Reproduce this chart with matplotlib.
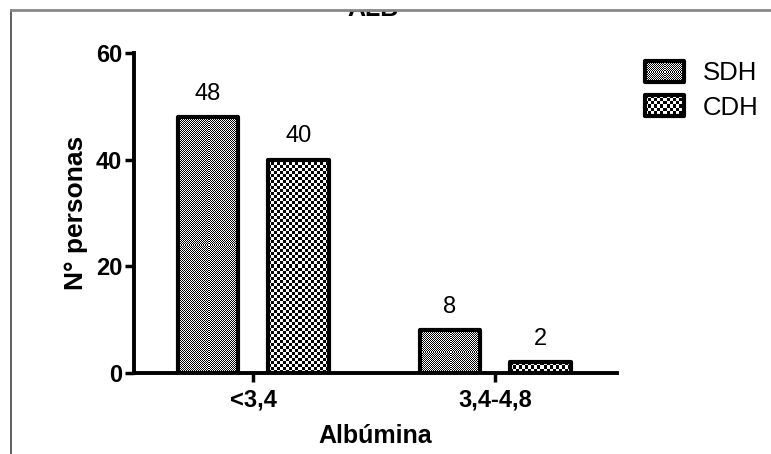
import matplotlib
matplotlib.use("Agg")
import matplotlib.pyplot as plt
import numpy as np
from matplotlib.lines import Line2D
from matplotlib.patches import Rectangle, Patch
from matplotlib.image import BboxImage
from matplotlib.transforms import Bbox, TransformedBbox
from matplotlib.legend_handler import HandlerBase

categorias = ["<3,4", "3,4-4,8"]
series = ["SDH", "CDH"]
sdh = [48, 8]
cdh = [40, 2]
yticks = [0, 20, 40, 60]

plt.rcParams['font.family'] = ['Liberation Sans', 'DejaVu Sans']


def tablero(h, w, paso):
    i = np.arange(h)[:, None] // paso
    j = np.arange(w)[None, :] // paso
    return ((i + j) % 2).astype(float)


class HandlerImg(HandlerBase):
    def __init__(self, paso):
        super().__init__()
        self.paso = paso

    def create_artists(self, legend, orig_handle, xdescent, ydescent,
                       width, height, fontsize, trans):
        bb = TransformedBbox(Bbox.from_bounds(-xdescent, -ydescent, width, height), trans)
        img = BboxImage(bb, cmap="gray", interpolation="nearest")
        img.set_data(tablero(int(height * 1.39), int(width * 1.39), self.paso))
        img.set_clim(0, 1)
        rect = Rectangle((-xdescent, -ydescent), width, height, transform=trans,
                         fc="none", ec="black", lw=3, joinstyle="round")
        return [img, rect]


fig = plt.figure(figsize=(7.71, 4.54), dpi=100)
ax = fig.add_axes([134 / 771, 1 - 373 / 454, (617 - 134) / 771, (373 - 53) / 454])

x = np.arange(len(categorias))
w = 0.25
off = 0.187
xlim = (-0.492, 1.504)
ylim = (0, 60)
ax.set_xlim(*xlim)
ax.set_ylim(*ylim)

b1 = ax.bar(x - off, sdh, w, facecolor="none", edgecolor="black", linewidth=3, zorder=3)
b2 = ax.bar(x + off, cdh, w, facecolor="none", edgecolor="black", linewidth=3, zorder=3)

# relleno de trama con imagen recortada a cada barra
for barras, paso in ((b1, 1), (b2, 3)):
    for b in barras:
        b.set_joinstyle("round")
        x0, x1 = b.get_x(), b.get_x() + b.get_width()
        y1 = b.get_height()
        p0 = ax.transData.transform((x0, 0))
        p1 = ax.transData.transform((x1, y1))
        pw = max(int(abs(p1[0] - p0[0])), 1)
        ph = max(int(abs(p1[1] - p0[1])), 1)
        im = ax.imshow(tablero(ph, pw, paso), cmap="gray", vmin=0, vmax=1,
                       extent=(x0, x1, 0, y1), aspect="auto",
                       interpolation="nearest", zorder=2)
        im.set_clip_path(b)

ax.set_xlim(*xlim)
ax.set_ylim(*ylim)

ax.bar_label(b1, padding=9, fontsize=17)
ax.bar_label(b2, padding=9, fontsize=17)

for s in ("top", "right"):
    ax.spines[s].set_visible(False)
for s in ("left", "bottom"):
    ax.spines[s].set_linewidth(2.8)

ax.set_yticks(yticks)
ax.set_xticks(x)
ax.set_xticklabels(categorias, fontsize=17, fontweight="bold")
ax.tick_params(axis="both", direction="out", length=6.5, width=2.5)
ax.tick_params(axis="y", labelsize=17, pad=2)
ax.tick_params(axis="x", pad=5)
for t in ax.get_yticklabels():
    t.set_fontweight("bold")

ax.set_ylabel("N° personas", fontsize=19, fontweight="bold")
ax.yaxis.set_label_coords(-0.095, 0.5)
ax.set_xlabel("Albúmina", fontsize=18, fontweight="bold")
ax.xaxis.set_label_coords(0.5, -0.16)

fig.text(373 / 771, 1 - 16 / 454, "ALB", ha="center", va="baseline",
         fontsize=18, fontweight="bold")

hs = [Patch(label=s) for s in series]
fig.legend(handles=hs, handler_map={hs[0]: HandlerImg(1), hs[1]: HandlerImg(3)},
           loc="upper left", bbox_to_anchor=(645 / 771, 1 - 61 / 454),
           frameon=False, fontsize=18.5, borderpad=0, borderaxespad=0,
           handlelength=1.52, handleheight=0.86, handletextpad=0.74,
           labelspacing=0.4)

# marco de la imagen original (recorte superior)
fig.add_artist(Rectangle((0, 1 - 10 / 454), 1, 10 / 454, transform=fig.transFigure,
                         facecolor="white", edgecolor="none", zorder=10))
fig.add_artist(Line2D([11 / 771, 11 / 771], [0, 1 - 10 / 454], color="#444444", lw=1.2, zorder=11))
fig.add_artist(Line2D([11 / 771, 1], [1 - 10 / 454, 1 - 10 / 454], color="#888888", lw=2, zorder=11))

fig.savefig("out.png", dpi=100)
